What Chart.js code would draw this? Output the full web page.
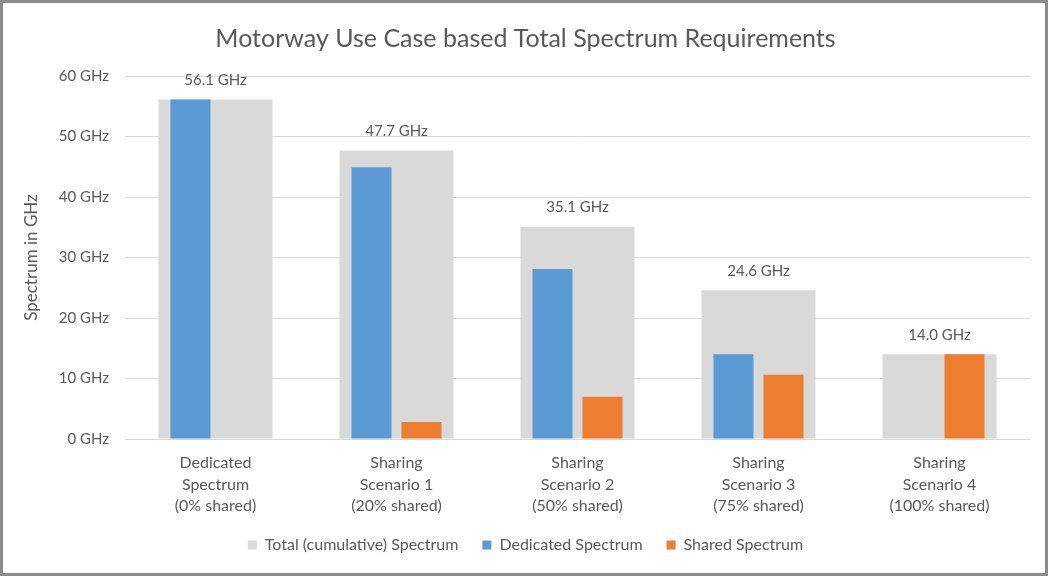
<!DOCTYPE html>
<html>
<head>
<meta charset="utf-8">
<script src="https://cdn.jsdelivr.net/npm/chart.js@4"></script>
<style>
  body { margin: 0; background: #fff; }
  #frame { width: 1048px; height: 576px; box-sizing: border-box; border: 3px solid #8c8c8c; background: #fff; }
  #wrap { position: relative; width: 1042px; height: 570px; }
</style>
</head>
<body>
<div id="frame"><div id="wrap"><canvas id="myChart"></canvas></div></div>
<script>
const categories = [
  ['Dedicated', 'Spectrum', '(0% shared)'],
  ['Sharing', 'Scenario 1', '(20% shared)'],
  ['Sharing', 'Scenario 2', '(50% shared)'],
  ['Sharing', 'Scenario 3', '(75% shared)'],
  ['Sharing', 'Scenario 4', '(100% shared)']
];
const totalSpectrum = [56.1, 47.7, 35.1, 24.6, 14.0];
const dedicatedSpectrum = [56.1, 44.9, 28.1, 14.0, 0];
const sharedSpectrum = [0, 2.8, 7.0, 10.6, 14.0];
const yTicks = [0, 10, 20, 30, 40, 50, 60];

const textColor = '#595959';
const fontFamily = 'Lato, "Open Sans", sans-serif';

// writes the total value above each grey bar
const totalLabels = {
  id: 'totalLabels',
  afterDatasetsDraw(chart) {
    const meta = chart.getDatasetMeta(0);
    const ctx = chart.ctx;
    ctx.save();
    ctx.fillStyle = textColor;
    ctx.font = '15px ' + fontFamily;
    ctx.textAlign = 'center';
    ctx.textBaseline = 'bottom';
    meta.data.forEach((bar, i) => {
      ctx.fillText(totalSpectrum[i].toFixed(1) + ' GHz', bar.x, bar.y - 12);
    });
    ctx.restore();
  }
};

const ctx = document.getElementById('myChart').getContext('2d');
const myChart = new Chart(ctx, {
  type: 'bar',
  data: {
    labels: categories,
    datasets: [
      {
        label: 'Total (cumulative) Spectrum',
        data: totalSpectrum,
        backgroundColor: '#d9d9d9',
        grouped: false,
        categoryPercentage: 1,
        barPercentage: 0.63,
        order: 1
      },
      {
        label: 'Dedicated Spectrum',
        data: dedicatedSpectrum,
        backgroundColor: '#5b9bd5',
        categoryPercentage: 0.5525,
        barPercentage: 0.8,
        order: 0
      },
      {
        label: 'Shared Spectrum',
        data: sharedSpectrum,
        backgroundColor: '#ed7d31',
        categoryPercentage: 0.5525,
        barPercentage: 0.8,
        order: 0
      }
    ]
  },
  options: {
    responsive: true,
    maintainAspectRatio: false,
    animation: false,
    layout: { padding: { left: 18, right: 15, top: 1, bottom: 10 } },
    plugins: {
      tooltip: { enabled: false },
      title: {
        display: true,
        text: 'Motorway Use Case based Total Spectrum Requirements',
        color: textColor,
        font: { family: fontFamily, size: 25, weight: 'normal' },
        padding: { top: 20, bottom: 22 }
      },
      legend: {
        position: 'bottom',
        labels: {
          color: textColor,
          font: { family: fontFamily, size: 16 },
          boxWidth: 9,
          boxHeight: 9,
          padding: 24,
          sort: (a, b) => a.datasetIndex - b.datasetIndex
        }
      }
    },
    scales: {
      x: {
        afterFit(axis) { axis.height = 74; },
        grid: { display: false },
        border: { display: false },
        ticks: {
          color: textColor,
          font: { family: fontFamily, size: 16, lineHeight: 1.35 },
          maxRotation: 0,
          padding: 5
        }
      },
      y: {
        min: 0,
        max: 60,
        afterBuildTicks(axis) {
          axis.ticks = yTicks.map(v => ({ value: v }));
        },
        afterFit(axis) { axis.width = 104; },
        grid: { color: '#d9d9d9', drawTicks: false },
        border: { display: false },
        title: {
          display: true,
          text: 'Spectrum in GHz',
          color: textColor,
          font: { family: fontFamily, size: 17 },
          padding: 0
        },
        ticks: {
          color: textColor,
          font: { family: fontFamily, size: 15 },
          padding: 16,
          callback: (v) => v + ' GHz'
        }
      }
    }
  },
  plugins: [totalLabels]
});
</script>
</body>
</html>
